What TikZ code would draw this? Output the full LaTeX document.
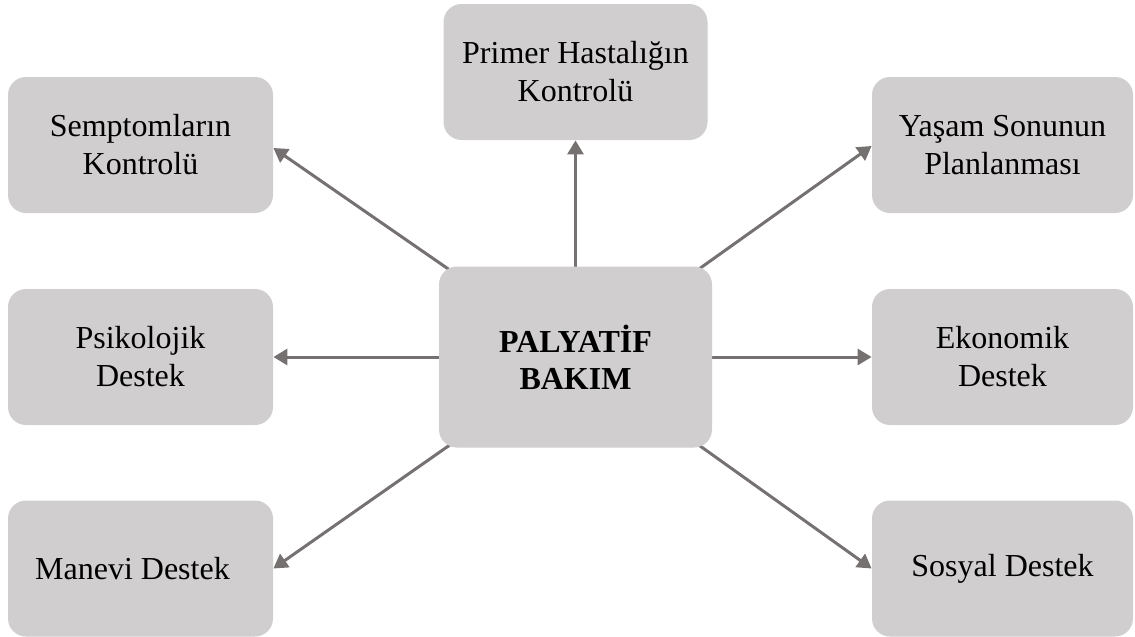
\documentclass[tikz,border=0pt]{standalone}
\usepackage{fontspec}
\setmainfont{Liberation Serif}
\usetikzlibrary{arrows.meta,backgrounds,calc}
\definecolor{boxgray}{HTML}{D0CECE}
\definecolor{arrgray}{HTML}{767171}
\begin{document}
\begin{tikzpicture}[x=0.5pt,y=-0.5pt,
  box/.style={rectangle, rounded corners=9pt, fill=boxgray, minimum width=132.5pt, minimum height=68pt, align=center, inner sep=0pt, font=\fontsize{16}{19}\selectfont},
  hub/.style={box, minimum width=136.5pt, minimum height=90.5pt, font=\fontsize{16}{18.5}\selectfont\bfseries},
  arr/.style={draw=arrgray, line width=1.5pt, -{Triangle[length=7pt,width=8pt]}}]
\useasboundingbox (0,0) rectangle (1135,637);
\node[hub] (c) at (575.5,357) {PALYATİF\\BAKIM};
\node[box, minimum width=132pt] (prim) at (575.5,72) {Primer Hastalığın\\Kontrolü};
\node[box] (semp) at (140.5,145) {Semptomların\\Kontrolü};
\node[box, minimum width=130.5pt] (yasam) at (1002.5,145) {Yaşam Sonunun\\Planlanması};
\node[box] (psi) at (140.5,357) {Psikolojik\\Destek};
\node[box, minimum width=130.5pt] (eko) at (1002.5,357) {Ekonomik\\Destek};
\node[box] (man) at (140.5,568.5) {\hspace*{-8pt}Manevi Destek};
\node[box, minimum width=130.5pt] (sos) at (1002.5,568.5) {Sosyal Destek};
\begin{scope}[on background layer]
\draw[arr] (c.center) -- (prim.south);
\draw[arr] (c.center) -- ($(semp.east)+(0,3)$);
\draw[arr] (c.center) -- ($(yasam.west)+(0,1)$);
\draw[arr] (c.center) -- (psi.east);
\draw[arr] (c.center) -- (eko.west);
\draw[arr] (c.center) -- (man.east);
\draw[arr] (c.center) -- (sos.west);
\end{scope}
\end{tikzpicture}
\end{document}
